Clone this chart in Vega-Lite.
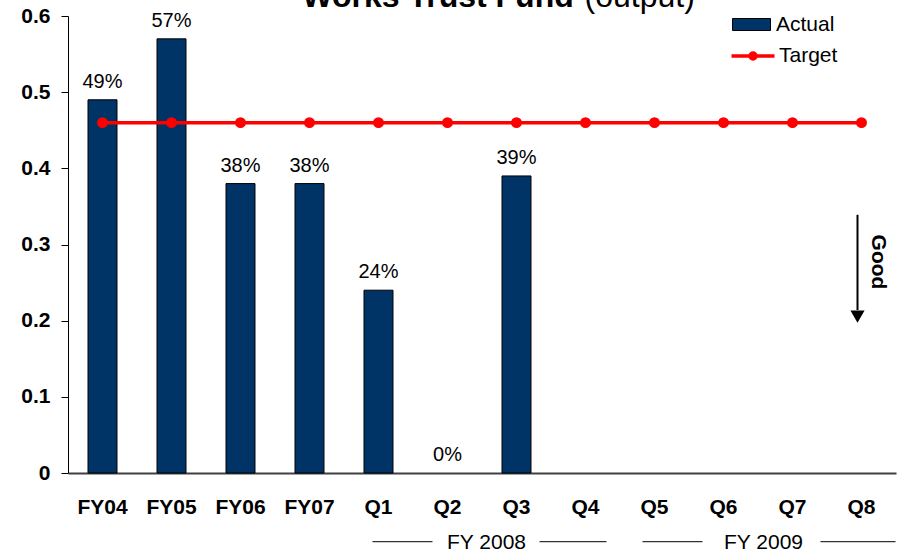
{
  "$schema": "https://vega.github.io/schema/vega-lite/v6.json",
  "autosize": "none",
  "width": 828,
  "height": 457,
  "padding": {"left": 68, "top": 16, "right": 9, "bottom": 80},
  "background": "white",
  "config": {
    "view": {"stroke": null},
    "font": "Liberation Sans",
    "text": {"font": "Liberation Sans", "color": "black"}
  },
  "datasets": {
    "main": [
      {"cat": "FY04", "actual": 0.49, "label": "49%", "target": 0.46},
      {"cat": "FY05", "actual": 0.57, "label": "57%", "target": 0.46},
      {"cat": "FY06", "actual": 0.38, "label": "38%", "target": 0.46},
      {"cat": "FY07", "actual": 0.38, "label": "38%", "target": 0.46},
      {"cat": "Q1", "actual": 0.24, "label": "24%", "target": 0.46},
      {"cat": "Q2", "actual": 0.0, "label": "0%", "target": 0.46},
      {"cat": "Q3", "actual": 0.39, "label": "39%", "target": 0.46},
      {"cat": "Q4", "actual": null, "label": null, "target": 0.46},
      {"cat": "Q5", "actual": null, "label": null, "target": 0.46},
      {"cat": "Q6", "actual": null, "label": null, "target": 0.46},
      {"cat": "Q7", "actual": null, "label": null, "target": 0.46},
      {"cat": "Q8", "actual": null, "label": null, "target": 0.46}
    ]
  },
  "data": {"name": "main"},
  "encoding": {
    "x": {
      "field": "cat", "type": "nominal", "sort": null,
      "scale": {
        "domain": ["FY04", "FY05", "FY06", "FY07", "Q1", "Q2", "Q3", "Q4", "Q5", "Q6", "Q7", "Q8"],
        "paddingInner": 0.58, "paddingOuter": 0.29
      },
      "axis": {
        "title": null, "labelAngle": 0, "ticks": false, "tickSize": 0,
        "labelFont": "Liberation Sans", "labelFontSize": 21, "labelFontWeight": "bold",
        "labelColor": "black", "labelPadding": 23, "domainColor": "#404040", "domainWidth": 2
      }
    }
  },
  "layer": [
    {
      "transform": [{"filter": "datum.actual > 0"}],
      "mark": {"type": "bar", "stroke": "black", "strokeWidth": 1},
      "encoding": {
        "y": {
          "field": "actual", "type": "quantitative",
          "scale": {"domain": [0, 0.6], "nice": false, "zero": true},
          "axis": {
            "title": null, "grid": false, "values": [0, 0.1, 0.2, 0.3, 0.4, 0.5, 0.6],
            "format": "~g", "tickSize": 7, "tickColor": "black", "domainColor": "black",
            "labelFont": "Liberation Sans", "labelFontSize": 21, "labelFontWeight": "bold",
            "labelColor": "black", "labelPadding": 11
          }
        },
        "fill": {
          "datum": "Actual",
          "scale": {"domain": ["Actual"], "range": ["#003366"]},
          "legend": {
            "orient": "none", "legendX": 673, "legendY": -2, "title": null,
            "symbolType": "M-1.9,-0.6H1.9V0.6H-1.9Z",
            "symbolSize": 400, "symbolStrokeColor": "black", "symbolStrokeWidth": 1, "symbolOpacity": 1,
            "labelFontSize": 21, "labelFont": "Liberation Sans",
            "labelColor": "black", "labelOffset": 14, "padding": 0
          }
        }
      }
    },
    {
      "transform": [{"filter": "datum.label != null"}],
      "mark": {"type": "text", "fontSize": 20, "baseline": "alphabetic", "dy": -12, "color": "black"},
      "encoding": {
        "y": {"field": "actual", "type": "quantitative"},
        "text": {"field": "label"}
      }
    },
    {
      "mark": {"type": "line", "strokeWidth": 3.5, "point": {"filled": true, "size": 80, "color": "#ff0000"}},
      "encoding": {
        "y": {"field": "target", "type": "quantitative"},
        "stroke": {
          "datum": "Target",
          "scale": {"domain": ["Target"], "range": ["#ff0000"]},
          "legend": {
            "orient": "none", "legendX": 673, "legendY": 28, "title": null,
            "symbolType": "M-2.15,0H2.15 M0.3,0A0.3,0.3 0 1,0 -0.3,0A0.3,0.3 0 1,0 0.3,0",
            "symbolSize": 400, "symbolStrokeWidth": 3.5, "symbolFillColor": "#ff0000", "symbolOpacity": 1,
            "labelFontSize": 21, "labelFont": "Liberation Sans",
            "labelColor": "black", "labelOffset": 14, "padding": 0
          }
        }
      }
    },
    {
      "data": {"values": [{}]},
      "mark": {"type": "text", "text": "Works Trust Fund", "fontSize": 32, "fontWeight": "bold", "align": "center", "baseline": "alphabetic", "dx": -9.5, "dy": -9},
      "encoding": {"x": {"datum": "Q2"}, "y": {"datum": 0.6}}
    },
    {
      "data": {"values": [{}]},
      "mark": {"type": "text", "text": "(output)", "fontSize": 32, "align": "left", "baseline": "alphabetic", "dx": -1, "dy": -9},
      "encoding": {"x": {"datum": "Q4"}, "y": {"datum": 0.6}}
    },
    {
      "data": {"values": [{}]},
      "mark": {"type": "rule", "color": "black", "strokeWidth": 2, "xOffset": -4},
      "encoding": {"x": {"datum": "Q8"}, "y": {"datum": 0.339}, "y2": {"datum": 0.214}}
    },
    {
      "data": {"values": [{}]},
      "mark": {"type": "point", "shape": "triangle-down", "filled": true, "color": "black", "size": 200, "opacity": 1, "xOffset": -4},
      "encoding": {"x": {"datum": "Q8"}, "y": {"datum": 0.2054}}
    },
    {
      "data": {"values": [{}]},
      "mark": {"type": "text", "text": "Good", "fontSize": 21, "fontWeight": "bold", "angle": 90, "align": "center", "baseline": "middle", "xOffset": 16},
      "encoding": {"x": {"datum": "Q8"}, "y": {"datum": 0.277}}
    },
    {
      "data": {"values": [{}]},
      "mark": {"type": "text", "text": "FY 2008", "fontSize": 21, "align": "center", "baseline": "alphabetic", "dx": 39},
      "encoding": {"x": {"datum": "Q2"}, "y": {"datum": -0.0997}}
    },
    {
      "data": {"values": [{}]},
      "mark": {"type": "text", "text": "FY 2009", "fontSize": 21, "align": "center", "baseline": "alphabetic", "dx": 40},
      "encoding": {"x": {"datum": "Q6"}, "y": {"datum": -0.0997}}
    },
    {
      "data": {"values": [{}]},
      "mark": {"type": "rule", "color": "black", "strokeWidth": 1, "xOffset": -6, "x2Offset": -15},
      "encoding": {"x": {"datum": "Q1"}, "x2": {"datum": "Q2"}, "y": {"datum": -0.0902}}
    },
    {
      "data": {"values": [{}]},
      "mark": {"type": "rule", "color": "black", "strokeWidth": 1, "xOffset": 23, "x2Offset": 21},
      "encoding": {"x": {"datum": "Q3"}, "x2": {"datum": "Q4"}, "y": {"datum": -0.0902}}
    },
    {
      "data": {"values": [{}]},
      "mark": {"type": "rule", "color": "black", "strokeWidth": 1, "xOffset": -12, "x2Offset": -21},
      "encoding": {"x": {"datum": "Q5"}, "x2": {"datum": "Q6"}, "y": {"datum": -0.0902}}
    },
    {
      "data": {"values": [{}]},
      "mark": {"type": "rule", "color": "black", "strokeWidth": 1, "xOffset": 28, "x2Offset": 34},
      "encoding": {"x": {"datum": "Q7"}, "x2": {"datum": "Q8"}, "y": {"datum": -0.0902}}
    }
  ]
}
